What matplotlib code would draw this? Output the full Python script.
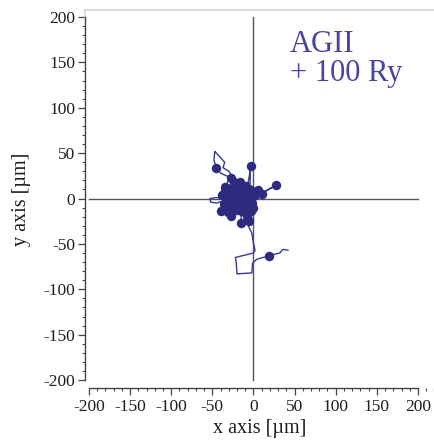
import matplotlib
matplotlib.use("Agg")
import matplotlib.pyplot as plt
from matplotlib.ticker import MultipleLocator, FuncFormatter

# Track of the cell (x, y in µm)
track_x = [-25, -30, -20, -35, -28, -40, -45, -48, -47, -41, -35, -37, -30, -22, -16,
           -10, -4, -4, -3, -5, -8, -15, -25, -33, -38, -45, -53, -52, -45, -38,
           -30, -20, -12, -5, 5, 10, 28, 15, 5, -5, -15, -25, -32, -39, -30,
           -27, -20, -12, -15, -22, -30, -18, -8, -2, -10, -20, -28, -15, -5, -12,
           -25, -35, -18, -6, -14, -28, -10, 0, -20, -32,
           -15, -15, -10, -5, -8, -2, 0, 2, 0, -22, -21, -20, -2, -1, 4,
           19, 32, 36, 42]
track_y = [0, 8, 12, 13, 23, 28, 34, 42, 52, 46, 40, 34, 30, 20, 18,
           12, 17, 26, 36, 25, 10, 5, 5, 3, 0, 1, 0, -4, -5, -3,
           -5, 0, 5, 8, 7, 6, 15, 8, 3, 0, -3, -8, -10, -13, -15,
           -20, -15, -10, -6, 3, -2, 8, 2, -5, -12, -8, 10, 15, 12, -2,
           6, -6, -12, 4, 14, 6, -8, -4, 2, 10,
           -20, -28, -22, -24, -27, -38, -49, -57, -60, -65, -70, -83, -82, -71, -67,
           -63, -60, -56, -57]

# Recorded positions (dots)
dot_x = [-45, -3, 28, -27, -16, 6, 10, -35, -39, -27, -15, -6, 19,
         -30, -25, -20, -15, -10, -5, -2, -30, -22, -15, -10, -20, -33,
         -12, -25, -5, -18, -8, 0, -28, -38, -3, -32, -24, -17, -9, -2,
         -36, -29, -21, -13, -7, -26, -19, -11, -4, 2, -34, -22, -14, -31, -8]
dot_y = [34, 36, 15, 23, 18, 9, 5, 13, -14, -19, -27, -25, -63,
         5, 0, 8, 3, -2, 3, -5, -5, -7, -10, -15, -13, -1,
         10, 12, 10, -2, 5, -10, -10, 4, -14, 12, 18, 12, 14, 8,
         -6, -12, 2, -6, -8, 6, -4, 6, -1, 4, 8, 15, -14, -15, -19]

ticks = [-200, -150, -100, -50, 0, 50, 100, 150, 200]
label_x = "x axis [µm]"
label_y = "y axis [µm]"
annotation = "AGII\n+ 100 Ry"

serif = ["Liberation Serif", "DejaVu Serif"]
track_color = "#3a3896"
dot_color = "#2e2a7e"
text_color = "#4a44a0"
axis_color = "#444444"

fig = plt.figure(figsize=(4.35, 4.42), dpi=100)
ax = fig.add_axes([0.195, 0.1217, 0.805, 0.8563])
ax.set_xlim(-205, 220.7)
ax.set_ylim(-209, 208)

# zero lines
ax.plot([-200, 200], [0, 0], color="#555555", lw=1.0, zorder=1)
ax.plot([0, 0], [-200, 200], color="#555555", lw=1.0, zorder=1)

ax.plot(track_x, track_y, color=track_color, lw=1.0, zorder=2)
ax.plot(dot_x, dot_y, "o", color=dot_color, ms=6.8, mec="none", zorder=3)

for s in ["left", "bottom"]:
    ax.spines[s].set_bounds(-200, 200)
    ax.spines[s].set_color(axis_color)
    ax.spines[s].set_linewidth(1.0)
ax.spines["right"].set_visible(False)
ax.spines["top"].set_color("#d4d4d4")
ax.spines["top"].set_linewidth(1.2)
ax.plot([0, 0], [0.98, 1.0], transform=ax.transAxes, color="#d4d4d4", lw=1.2, clip_on=False)

fmt = FuncFormatter(lambda v, p: "%d" % v)
ax.set_xticks(ticks)
ax.set_yticks(ticks)
ax.xaxis.set_major_formatter(fmt)
ax.yaxis.set_major_formatter(fmt)
ax.xaxis.set_minor_locator(MultipleLocator(10))
ax.yaxis.set_minor_locator(MultipleLocator(10))
ax.tick_params(which="major", direction="out", length=5, width=0.9, color=axis_color,
               labelsize=12.5, labelcolor="#1e1e1e")
ax.tick_params(axis="x", which="major", pad=3)
ax.tick_params(axis="y", which="major", pad=2)
ax.tick_params(which="minor", direction="out", length=2.5, width=0.8, color=axis_color)
for lab in ax.get_xticklabels() + ax.get_yticklabels():
    lab.set_family(serif)

ax.set_xlabel(label_x, fontsize=14.5, family=serif, color="#1e1e1e", labelpad=3)
ax.set_ylabel(label_y, fontsize=14.5, family=serif, color="#1e1e1e", labelpad=9)

ax.text(44, 129.5, annotation, fontsize=22, family=serif, color=text_color,
        va="baseline", ha="left", linespacing=1.0)

fig.savefig("out.png", dpi=100)
